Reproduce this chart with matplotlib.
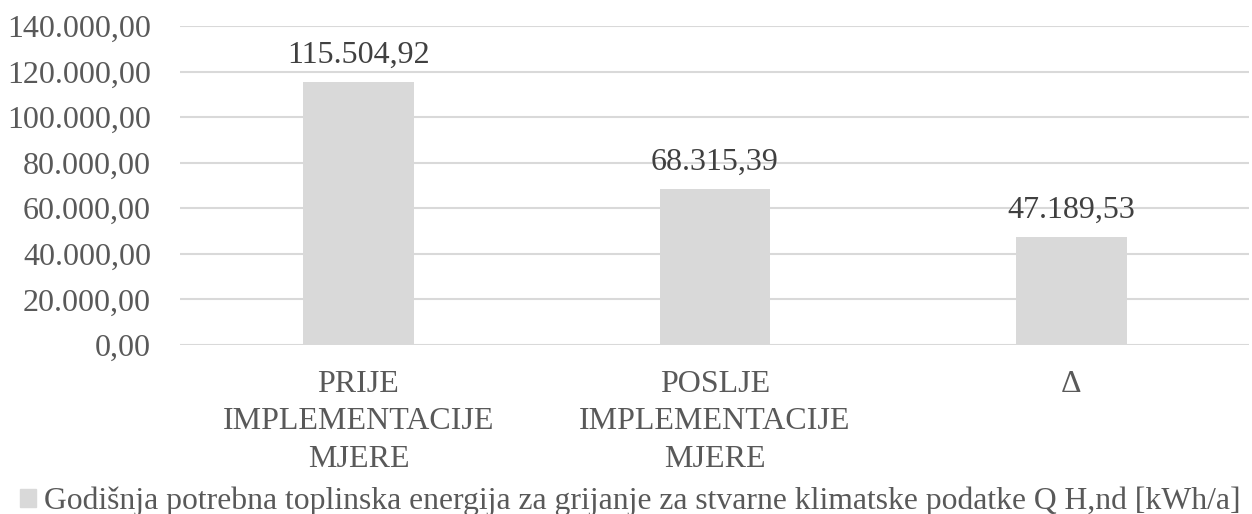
import matplotlib.pyplot as plt
from matplotlib.patches import Patch
from matplotlib.ticker import FuncFormatter

categories = ['PRIJE\nIMPLEMENTACIJE\nMJERE', 'POSLJE\nIMPLEMENTACIJE\nMJERE', 'Δ']
values = [115504.92, 68315.39, 47189.53]
series_name = 'Godišnja potrebna toplinska energija za grijanje za stvarne klimatske podatke Q H,nd [kWh/a]'

plt.rcParams['font.family'] = ['Liberation Serif', 'DejaVu Serif']
text_col = '#595959'
bar_col = '#d9d9d9'
fs = 23


def hr_fmt(v, pos=None):
    s = f'{v:,.2f}'
    return s.replace(',', 'X').replace('.', ',').replace('X', '.')


fig = plt.figure(figsize=(12.52, 5.14), dpi=100)
ax = fig.add_axes([0.144, 0.329, 0.854, 0.620])

x = range(len(categories))
bars = ax.bar(x, values, width=0.31, color=bar_col, zorder=2)
for b, v in zip(bars, values):
    ax.text(b.get_x() + b.get_width() / 2, v + 5500, hr_fmt(v),
            ha='center', va='bottom', fontsize=fs, color='#404040')

ax.set_ylim(0, 140000)
ax.set_xlim(-0.5, 2.5)
ax.set_yticks(range(0, 140001, 20000))
ax.yaxis.set_major_formatter(FuncFormatter(hr_fmt))
ax.grid(axis='y', color='#d9d9d9', linewidth=1.5, zorder=0)
ax.set_xticks(list(x))
ax.set_xticklabels(categories, linespacing=1.38)
ax.tick_params(axis='both', length=0, labelsize=fs, colors=text_col)
ax.tick_params(axis='y', pad=21)
ax.tick_params(axis='x', pad=18)
for s in ax.spines.values():
    s.set_visible(False)

fig.legend(handles=[Patch(color=bar_col, label=series_name)], loc='lower left',
           bbox_to_anchor=(0.016, -0.004), frameon=False, fontsize=22.8,
           borderpad=0, borderaxespad=0,
           handlelength=0.5, handleheight=0.5, handletextpad=0.25,
           labelcolor=text_col)

fig.savefig('out.png', dpi=100)
